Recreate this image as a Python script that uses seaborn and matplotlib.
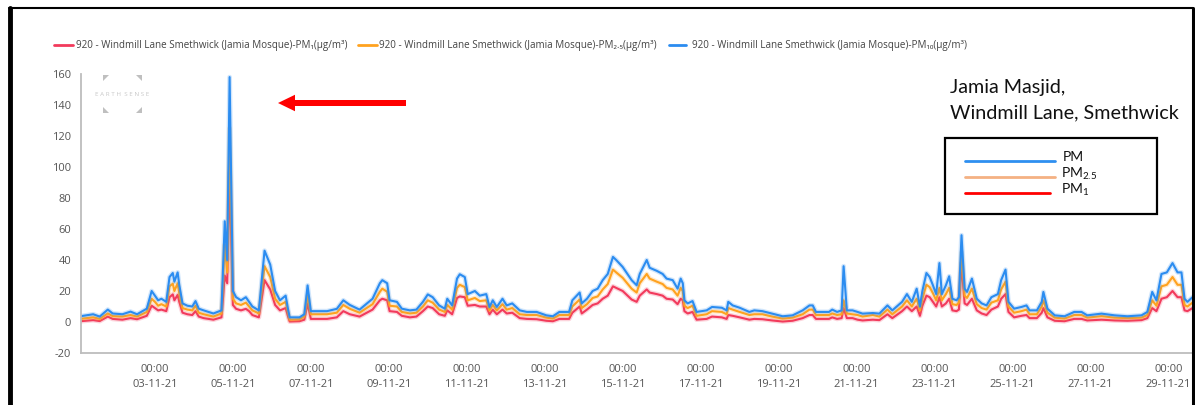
import numpy as np
import pandas as pd
import matplotlib
matplotlib.use("Agg")
import matplotlib.pyplot as plt
from matplotlib.lines import Line2D
from matplotlib.patches import Rectangle, FancyArrow, Polygon
import matplotlib.patheffects as pe
import seaborn as sns

# ---------------- data (hours since 2021-11-01 00:00) ----------------
hours = [
    2, 10, 14, 19, 22, 28, 33, 37, 43, 46,
    48, 50, 52, 55, 57, 59, 60, 62, 63, 65,
    68, 71, 73, 75, 78, 84, 89, 91, 92.5, 94,
    96, 98, 101, 104, 106, 108, 112, 115.5, 119, 122,
    125, 128.5, 130, 131, 137, 140, 142, 144, 154, 160,
    164, 168, 174, 182, 186.5, 188, 191, 192.5, 197, 200,
    205, 209, 213, 216, 219, 223, 226.5, 228, 231, 234,
    235.7, 238.8, 240.6, 245, 248, 252, 254, 256, 258.5, 262,
    264.6, 268, 272.6, 277, 283, 289, 293, 297, 303, 305,
    309.5, 310.8, 314, 317.5, 320.6, 323.7, 326.8, 330, 332, 336,
    341.5, 344.6, 346.5, 350.8, 352.6, 357, 360.6, 363, 366.8, 369.8,
    371.7, 373, 374, 376, 379, 381.5, 387.7, 391, 397, 400,
    401, 403.7, 408, 414, 417, 422, 428, 434.5, 440.6, 446.8,
    451, 453, 455, 463, 465, 468, 470.8, 472, 474, 477.5,
    480.6, 483.7, 490, 494, 499, 502, 508, 511, 514, 517,
    519, 520.5, 523, 525, 527, 529, 531, 532.5, 535, 537,
    539, 541.5, 543, 544.6, 546.5, 548, 551, 554, 557, 560,
    563, 567, 569, 571.7, 573.5, 577, 581.5, 584.6, 586.5, 591,
    594, 595, 597.5, 602, 608, 614, 618.5, 622, 630.8, 638.8,
    646.8, 655.4, 659, 662, 664.6, 667.7, 671, 674.5, 677.6, 680,
    681.9, 683.7, 686.8,
]

pm10 = [
    3.7, 5.0, 3.5, 8.0, 5.5, 5.0, 6.7, 5.0, 8.6, 20.0,
    17.0, 14.0, 15.0, 13.0, 29.0, 31.6, 26.0, 32.0, 24.0, 12.0,
    10.5, 10.0, 13.5, 8.6, 7.5, 5.5, 7.5, 65.0, 40.0, 158.0,
    20.0, 16.0, 14.0, 16.0, 13.0, 10.0, 7.5, 46.0, 37.0, 20.0,
    14.0, 17.0, 8.0, 3.0, 3.0, 5.0, 23.6, 7.0, 7.0, 8.5,
    14.0, 11.0, 8.0, 15.0, 25.0, 27.0, 25.0, 14.0, 13.0, 8.6,
    7.5, 8.0, 13.0, 17.8, 16.0, 10.7, 8.6, 15.0, 10.7, 28.0,
    30.8, 29.0, 18.0, 20.0, 17.0, 18.0, 9.7, 14.0, 9.7, 15.0,
    10.7, 12.0, 7.5, 6.5, 6.5, 4.3, 3.7, 6.5, 6.5, 14.0,
    19.0, 12.0, 15.0, 20.0, 21.5, 27.0, 31.0, 42.0, 40.0, 35.5,
    27.0, 23.7, 31.0, 40.0, 35.0, 33.0, 31.0, 28.0, 27.0, 21.5,
    28.0, 25.0, 14.0, 12.0, 13.5, 6.5, 7.5, 9.7, 9.2, 7.5,
    13.0, 10.7, 9.2, 6.5, 7.5, 7.0, 5.4, 3.7, 4.3, 7.5,
    10.7, 10.7, 6.5, 6.5, 8.0, 6.5, 7.5, 36.0, 7.5, 7.5,
    6.5, 5.4, 5.8, 5.4, 10.7, 7.5, 13.0, 18.0, 13.0, 21.5,
    10.0, 20.0, 31.6, 29.0, 23.7, 18.0, 38.0, 18.0, 23.7, 29.5,
    15.0, 14.0, 16.0, 56.0, 21.5, 19.4, 28.0, 15.0, 12.0, 10.7,
    16.0, 18.0, 27.0, 33.8, 13.0, 8.6, 9.7, 10.7, 7.5, 7.5,
    13.0, 19.4, 8.6, 4.3, 3.7, 6.5, 6.5, 4.3, 5.4, 4.3,
    3.7, 4.3, 6.5, 19.4, 14.0, 31.0, 32.0, 38.0, 32.0, 32.0,
    15.0, 13.0, 16.0,
]

pm25 = [
    2.0, 3.0, 2.0, 5.5, 3.8, 3.5, 4.5, 3.5, 6.5, 15.0,
    13.0, 10.5, 11.5, 10.0, 23.0, 24.7, 20.0, 25.0, 18.5, 9.0,
    8.0, 7.5, 10.5, 6.0, 5.0, 3.5, 5.5, 50.0, 32.0, 125.0,
    15.0, 12.0, 11.0, 12.5, 10.0, 7.5, 5.5, 36.0, 29.0, 15.0,
    11.0, 13.0, 6.0, 1.5, 1.8, 3.5, 17.0, 5.0, 5.0, 6.0,
    11.0, 8.5, 6.0, 11.5, 19.5, 21.5, 19.5, 10.5, 10.0, 6.5,
    5.5, 6.0, 10.0, 14.0, 12.5, 8.0, 6.5, 11.0, 8.0, 22.0,
    24.0, 22.5, 14.0, 15.5, 13.5, 14.0, 7.5, 11.0, 7.5, 11.5,
    8.0, 9.0, 5.0, 4.5, 4.5, 2.8, 2.2, 4.5, 4.5, 10.0,
    14.5, 9.0, 11.5, 15.5, 16.5, 21.0, 24.5, 33.8, 32.0, 28.5,
    21.5, 19.0, 25.0, 31.0, 28.0, 26.0, 24.5, 22.0, 21.0, 17.0,
    22.0, 20.0, 10.5, 9.0, 10.5, 4.0, 5.0, 7.0, 6.5, 5.0,
    9.0, 8.0, 6.5, 4.5, 5.0, 5.0, 3.5, 2.2, 2.8, 5.0,
    8.0, 8.0, 4.5, 4.5, 5.5, 4.5, 5.0, 14.0, 5.5, 5.0,
    4.5, 3.5, 4.5, 3.5, 8.0, 5.0, 10.0, 14.0, 10.0, 15.0,
    7.5, 15.0, 24.0, 22.5, 18.5, 14.0, 22.0, 14.0, 18.0, 22.0,
    11.5, 11.0, 12.5, 45.0, 17.0, 15.5, 21.5, 11.5, 9.0, 8.0,
    12.5, 14.0, 21.0, 26.0, 10.0, 6.0, 7.0, 8.0, 5.0, 5.0,
    10.0, 14.0, 6.0, 2.8, 2.2, 4.5, 4.5, 2.8, 3.8, 2.8,
    2.5, 2.8, 4.5, 14.0, 10.5, 23.0, 24.0, 29.0, 24.0, 24.0,
    11.0, 10.0, 12.5,
]

pm1 = [
    0.5, 1.2, 0.6, 3.5, 2.0, 1.5, 2.5, 1.8, 4.0, 10.5,
    9.0, 7.5, 8.0, 7.0, 16.0, 17.8, 14.0, 17.5, 13.0, 6.0,
    5.0, 4.5, 7.0, 3.5, 2.5, 1.5, 3.0, 30.0, 25.0, 96.0,
    11.0, 8.5, 7.5, 8.5, 7.0, 4.5, 3.0, 27.0, 21.0, 11.0,
    7.5, 9.0, 3.5, 0.3, 0.5, 1.5, 12.0, 2.0, 2.0, 3.0,
    7.0, 5.0, 3.5, 8.0, 14.0, 15.0, 14.0, 7.0, 6.5, 4.0,
    3.0, 3.5, 7.0, 10.0, 9.0, 5.0, 4.0, 7.5, 5.0, 15.5,
    16.5, 16.0, 10.5, 11.0, 10.0, 10.0, 5.0, 8.0, 5.0, 8.0,
    5.5, 6.0, 2.5, 2.0, 1.8, 0.8, 0.5, 2.0, 2.0, 6.0,
    10.0, 5.5, 8.0, 11.0, 12.0, 15.0, 17.0, 23.0, 22.0, 20.0,
    14.5, 13.0, 17.0, 21.0, 19.0, 18.0, 17.0, 15.0, 14.5, 11.5,
    15.0, 14.0, 7.0, 5.5, 6.5, 1.5, 2.0, 3.5, 3.0, 2.0,
    4.5, 4.0, 3.0, 1.5, 2.0, 1.8, 1.0, 0.3, 0.8, 2.5,
    4.5, 4.5, 2.0, 2.0, 3.0, 2.0, 2.5, 9.0, 2.5, 2.5,
    1.5, 1.0, 1.5, 1.2, 5.0, 2.5, 7.0, 10.0, 7.0, 10.0,
    4.0, 10.5, 17.0, 16.0, 13.0, 10.0, 16.0, 10.0, 12.0, 15.0,
    7.5, 7.0, 8.0, 38.0, 12.0, 11.0, 15.0, 7.5, 5.5, 4.5,
    8.0, 10.0, 15.0, 18.0, 6.5, 3.0, 4.0, 4.5, 2.5, 2.5,
    6.0, 9.0, 3.0, 0.8, 0.5, 2.0, 2.0, 1.0, 1.5, 1.0,
    0.8, 1.2, 2.5, 9.0, 7.0, 15.0, 16.0, 20.0, 16.0, 16.0,
    7.5, 7.0, 9.0,
]

series_names = [
    "920 - Windmill Lane Smethwick (Jamia Mosque)-PM\u2081(\u00b5g/m\u00b3)",
    "920 - Windmill Lane Smethwick (Jamia Mosque)-PM\u2082.\u2085(\u00b5g/m\u00b3)",
    "920 - Windmill Lane Smethwick (Jamia Mosque)-PM\u2081\u2080(\u00b5g/m\u00b3)",
]
tick_dates = ["03-11-21", "05-11-21", "07-11-21", "09-11-21", "11-11-21",
              "13-11-21", "15-11-21", "17-11-21", "19-11-21", "21-11-21",
              "23-11-21", "25-11-21", "27-11-21", "29-11-21"]
y_ticks = [-20, 0, 20, 40, 60, 80, 100, 120, 140, 160]
title_lines = ["Jamia Masjid,", "Windmill Lane, Smethwick"]
box_labels = ["PM", r"PM$_{\mathrm{2.5}}$", r"PM$_{\mathrm{1}}$"]

colors = ["#f23a5c", "#ffa21f", "#2b8cf0"]
box_colors = ["#2e8ff0", "#f4b183", "#ff0000"]

# ---------------- build ----------------
start = pd.Timestamp("2021-11-01")
times = start + pd.to_timedelta(hours, unit="h")
df = pd.DataFrame({
    "time": list(times) * 3,
    "value": pm1 + pm25 + pm10,
    "series": [series_names[0]] * len(hours) + [series_names[1]] * len(hours)
              + [series_names[2]] * len(hours),
})

sns.set_theme(style="white")
plt.rcParams["font.family"] = ["Open Sans", "DejaVu Sans"]
plt.rcParams["mathtext.fontset"] = "custom"
plt.rcParams["mathtext.rm"] = "Lato"
plt.rcParams["mathtext.it"] = "Lato:italic"

W, H = 1195, 405
fig = plt.figure(figsize=(W / 100, H / 100), dpi=100)
fig.patch.set_facecolor("white")


def fx(x):
    return x / W


def fy(y):
    return 1 - y / H


ax = fig.add_axes([fx(81), fy(353), fx(1192) - fx(81), fy(74) - fy(353)])
sns.lineplot(data=df, x="time", y="value", hue="series", hue_order=series_names,
             palette=colors, linewidth=1.5, legend=False, ax=ax,
             estimator=None, sort=False)
for ln in ax.lines:
    ln.set_path_effects([pe.Stroke(linewidth=3.4, foreground=ln.get_color(), alpha=0.22),
                         pe.Normal()])

ax.set_ylim(-20, 160)
ax.set_yticks(y_ticks)
ax.set_yticklabels([str(v) for v in y_ticks])
ax.set_xlim(start + pd.Timedelta(hours=2.5), start + pd.Timedelta(hours=686.5))
tick_pos = pd.to_datetime(tick_dates, format="%d-%m-%y")
ax.set_xticks(tick_pos)
ax.set_xticklabels(["00:00\n" + d for d in tick_dates], linespacing=1.45)
ax.set_xlabel("")
ax.set_ylabel("")
for s in ["top", "right"]:
    ax.spines[s].set_visible(False)
for s in ["left", "bottom"]:
    ax.spines[s].set_color("#bdbdbd")
    ax.spines[s].set_linewidth(1.3)
ax.tick_params(axis="both", which="both", colors="#bdbdbd", labelcolor="#555555",
               labelsize=8, length=4, width=1.1)
ax.tick_params(axis="x", pad=4)
ax.tick_params(axis="y", pad=3)
ax.grid(False)

# ---------------- top legend ----------------
leg_pos = [(54, 73, 76), (358, 377, 379), (669, 686, 692)]
for (l1, l2, tx), name, c in zip(leg_pos, series_names, colors):
    fig.add_artist(Line2D([fx(l1), fx(l2)], [fy(45), fy(45)], color=c, lw=2))
    fig.text(fx(tx), fy(45.5), name, fontsize=7.1, color="#444444", va="center", ha="left")

# ---------------- logo ----------------
logo_c = "#bfbfbf"
for (cx, cy, sx, sy) in [(103, 75, 1, 1), (142, 75, -1, 1), (103, 113, 1, -1), (142, 113, -1, -1)]:
    pts = [(fx(cx), fy(cy)), (fx(cx + 6 * sx), fy(cy)), (fx(cx), fy(cy + 6 * sy))]
    fig.add_artist(Polygon(pts, closed=True, color=logo_c, lw=0))
fig.text(fx(122), fy(95), "E A R T H  S E N S E", fontsize=4.5, color="#c8c8c8",
         ha="center", va="center")

# ---------------- red arrow ----------------
fig.add_artist(FancyArrow(406 / 100, (H - 103) / 100, -128 / 100, 0, width=0.06,
                          head_width=0.165, head_length=0.17, length_includes_head=True,
                          color="#ff0000", lw=0, transform=fig.dpi_scale_trans))

# ---------------- title text ----------------
fig.text(fx(950), fy(88), title_lines[0], fontsize=14.2, family=["Lato", "DejaVu Sans"],
         color="#111111", ha="left", va="center")
fig.text(fx(950), fy(113), title_lines[1], fontsize=14.2, family=["Lato", "DejaVu Sans"],
         color="#111111", ha="left", va="center")

# ---------------- boxed legend ----------------
fig.add_artist(Rectangle((fx(945), fy(214)), fx(1157) - fx(945), fy(138) - fy(214),
                         fill=False, ec="black", lw=1.6))
box_rows = [(161, 1055, 1063, 157), (177, 1055, 1061, 174), (193, 1050, 1061, 190)]
for (ly, lx2, tx, ty), lab, c in zip(box_rows, box_labels, box_colors):
    fig.add_artist(Line2D([fx(965), fx(lx2)], [fy(ly), fy(ly)], color=c, lw=2))
    fig.text(fx(tx), fy(ty), lab, fontsize=10, family=["Lato", "DejaVu Sans"],
             color="#111111", ha="left", va="center")

# ---------------- outer frame ----------------
fig.add_artist(Line2D([fx(10), fx(10)], [fy(8), fy(405)], color="black", lw=3.5))
fig.add_artist(Line2D([fx(9), fx(1193)], [fy(8), fy(8)], color="black", lw=1.5))
fig.add_artist(Line2D([fx(1192.5), fx(1192.5)], [fy(8), fy(405)], color="black", lw=2.2))

fig.savefig("out.png", dpi=100, facecolor="white")
